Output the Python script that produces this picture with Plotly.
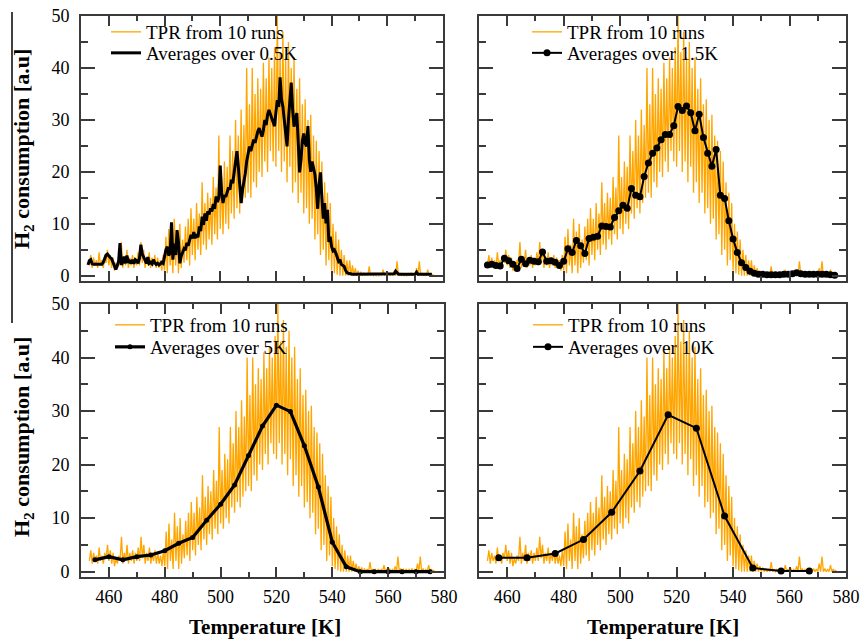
import numpy as np
import plotly.graph_objects as go

# ---------------- data ----------------
# raw TPR (10 runs): per-kelvin low / high envelope of the noisy trace
RAW_T0 = 453.0
raw_lo = [2.0, 1.5, 2.0, 1.5, 2.0, 1.5, 2.5, 2.0, 1.5, 1.0,
          1.5, 2.0, 1.5, 2.0, 1.5, 2.0, 1.5, 2.0, 2.0, 2.5,
          1.5, 2.0, 1.5, 2.0, 1.5, 1.5, 1.0, 1.0, 0.5, 2.0,
          0.5, 2.0, 0.5, 1.5, 2.5, 3.0, 2.0, 4.0, 3.0, 5.0,
          4.0, 6.0, 5.0, 7.0, 6.0, 8.0, 7.0, 9.0, 8.0, 10.0,
          9.0, 12.0, 11.0, 13.0, 12.0, 14.0, 15.0, 16.0, 15.0, 18.0,
          17.0, 20.0, 19.0, 22.0, 20.0, 24.0, 22.0, 21.0, 24.0, 20.0,
          22.0, 18.0, 21.0, 16.0, 18.0, 14.0, 16.0, 12.0, 13.0, 10.0,
          11.0, 7.0, 8.0, 4.0, 5.0, 2.0, 3.0, 1.0, 0.5, 0.2,
          0.0, 0.0, 0.0, 0.0, 0.0, 0.0, 0.0, 0.0, 0.0, 0.0,
          0.0, 0.0, 0.0, 0.0, 0.0, 0.0, 0.0, 0.0, 0.0, 0.0,
          0.0, 0.0, 0.0, 0.0, 0.0, 0.0, 0.0, 0.0, 0.0, 0.0,
          0.0, 0.0, 0.0, 0.0]
raw_hi = [4.0, 3.5, 3.0, 4.5, 3.0, 3.5, 5.0, 4.0, 3.5, 2.5,
          3.0, 6.5, 3.5, 5.0, 3.5, 4.0, 3.5, 4.5, 6.5, 5.0,
          3.5, 4.5, 3.5, 4.0, 3.5, 3.0, 4.0, 7.5, 9.0, 6.0,
          11.0, 8.5, 10.0, 7.0, 9.5, 11.0, 13.0, 11.0, 14.0, 12.0,
          18.0, 14.0, 16.0, 15.0, 19.0, 17.0, 27.0, 19.0, 22.0, 21.0,
          27.0, 24.0, 30.0, 27.0, 32.0, 29.0, 40.0, 33.0, 40.0, 35.0,
          38.0, 36.0, 41.0, 38.0, 42.0, 40.0, 44.0, 50.0, 43.0, 47.0,
          42.0, 45.0, 40.0, 42.0, 36.0, 38.0, 33.0, 34.0, 30.0, 31.0,
          27.0, 26.0, 24.0, 22.0, 18.0, 16.0, 14.0, 10.0, 8.5, 7.0,
          5.0, 4.0, 3.0, 3.0, 2.0, 1.5, 1.0, 0.8, 0.6, 0.5,
          1.8, 0.5, 0.4, 0.5, 0.4, 1.2, 0.5, 0.6, 0.4, 1.0,
          2.8, 0.6, 0.4, 0.5, 0.4, 0.6, 0.5, 1.5, 2.8, 0.6,
          0.4, 1.2, 0.5, 0.3]

# averages over 0.5 K (starting at 452.5 K)
AVG05_T0 = 452.5
avg_05 = [2.1, 2.9, 3.1, 2.3, 2.2, 2.2, 2.3, 2.2, 2.2, 2.3,
          2.2, 2.6, 3.4, 4.0, 4.2, 3.8, 3.5, 3.3, 2.5, 1.8,
          1.2, 1.9, 2.8, 6.3, 2.1, 2.6, 3.7, 2.4, 3.9, 2.5,
          2.8, 2.4, 3.1, 2.3, 3.1, 2.9, 2.4, 3.4, 6.0, 4.2,
          3.4, 3.0, 2.4, 3.6, 2.4, 2.6, 2.3, 3.1, 2.5, 2.2,
          2.4, 2.1, 2.3, 2.6, 2.4, 3.8, 5.0, 5.6, 3.9, 4.4,
          10.3, 3.1, 6.2, 4.0, 8.8, 6.5, 2.4, 3.8, 4.4, 5.2,
          4.9, 6.3, 5.8, 7.0, 7.9, 7.2, 8.4, 7.2, 8.0, 7.4,
          9.5, 8.6, 11.4, 9.8, 12.0, 10.6, 12.4, 11.8, 13.0, 12.4,
          13.8, 12.9, 15.3, 14.2, 15.0, 21.2, 16.0, 14.0, 15.5, 15.2,
          16.2, 17.0, 16.6, 18.5, 17.8, 20.0, 22.0, 24.0, 21.0, 18.2,
          14.0, 16.5, 18.0, 19.7, 22.0, 23.5, 24.9, 24.0, 25.5, 26.2,
          25.6, 27.0, 27.8, 28.4, 27.5, 26.8, 28.0, 30.0, 29.0, 31.0,
          31.9, 31.2, 30.6, 29.5, 28.8, 31.5, 33.8, 32.5, 38.2, 34.0,
          32.6, 30.0, 27.9, 24.9, 30.0, 33.0, 37.2, 32.0, 28.7, 30.2,
          31.3, 26.0, 19.9, 22.3, 26.0, 27.4, 25.5, 24.9, 28.8, 22.3,
          20.0, 22.0, 21.0, 19.5, 16.7, 12.9, 17.5, 19.9, 15.0, 11.0,
          14.0, 10.1, 12.7, 6.5, 7.5, 5.6, 4.8, 5.0, 4.4, 3.6,
          2.8, 3.1, 2.2, 2.0, 1.8, 1.1, 0.6, 0.5, 0.4, 0.4,
          0.3, 0.3, 0.3, 0.3, 0.3, 0.3, 0.3, 0.3, 0.3, 0.3,
          0.3, 0.3, 0.3, 0.3, 0.3, 0.3, 0.3, 0.3, 0.3, 0.3,
          0.3, 0.3, 0.3, 0.3, 0.3, 0.3, 0.3, 0.3, 0.3, 0.3,
          0.4, 0.9, 0.5, 0.3, 0.3, 0.3, 0.3, 0.3, 0.3, 0.3,
          0.3, 0.3, 0.3, 0.3, 0.3, 0.3, 0.7, 0.3, 0.3, 0.3,
          0.3, 0.3, 0.3, 0.3, 0.3, 0.3, 0.3, 0.3]

# averages over 1.5 K (starting at 453 K)
AVG15_T0 = 453.0
avg_15 = [2.1, 2.2, 2.0, 1.9, 3.4, 2.9, 2.2, 1.4, 3.2, 2.3,
          3.0, 2.8, 2.7, 4.6, 2.8, 2.9, 2.6, 2.0, 2.8, 5.2,
          4.5, 6.8, 5.8, 4.3, 7.2, 7.4, 7.6, 9.6, 9.5, 9.4,
          11.2, 12.5, 13.6, 13.0, 16.8, 15.5, 15.2, 19.1, 21.7, 23.6,
          24.6, 26.2, 27.2, 27.2, 28.9, 32.6, 31.8, 32.7, 31.4, 27.9,
          31.1, 26.6, 23.6, 21.1, 24.3, 15.5, 14.9, 10.6, 7.1, 4.5,
          2.5, 1.6, 0.9, 0.5, 0.3, 0.3, 0.2, 0.2, 0.2, 0.2,
          0.3, 0.3, 0.4, 0.6, 0.4, 0.3, 0.3, 0.3, 0.3, 0.3,
          0.3, 0.2, 0.1]

# averages over 5 K
T_5 = [455, 460, 465, 470, 475, 480, 485, 490, 495, 500, 505, 510, 515,
       520, 525, 530, 535, 540, 545, 550, 555, 560, 565, 570, 575]
avg_5 = [2.2, 2.8, 2.2, 2.8, 3.1, 3.9, 5.3, 6.4, 9.6, 12.6, 16.2, 21.7, 27.2,
         31.1, 29.9, 23.5, 15.8, 5.5, 0.9, 0.0, 0.0, 0.0, 0.0, 0.0, 0.0]

# averages over 10 K
T_10 = [457, 467, 477, 487, 497, 507, 517, 527, 537, 547, 557, 567]
avg_10 = [2.6, 2.6, 3.4, 6.0, 11.1, 18.8, 29.3, 26.8, 10.4, 0.7, 0.1, 0.1]

labels = ["Averages over 0.5K", "Averages over 1.5K",
          "Averages over 5K", "Averages over 10K"]
raw_label = "TPR from 10 runs"
x_ticks = [460, 480, 500, 520, 540, 560, 580]
y_ticks = [0, 10, 20, 30, 40, 50]

# ---------------- build ----------------
raw_x, raw_y = [], []
for i, (lo, hi) in enumerate(zip(raw_lo, raw_hi)):
    raw_x += [RAW_T0 + i, RAW_T0 + i + 0.5]
    raw_y += [lo, hi]

t05 = AVG05_T0 + 0.5 * np.arange(len(avg_05))
t15 = AVG15_T0 + 1.5 * np.arange(len(avg_15))

series = [(t05, avg_05), (t15, avg_15), (T_5, avg_5), (T_10, avg_10)]
line_w = [3.0, 2.0, 3.2, 2.0]
mk_size = [0, 7, 5, 7]

W, H = 862, 640
def px(x):
    return x / W
def py(y):
    return 1 - y / H

x_dom = [[px(81), px(443)], [px(479), px(846)], [px(81), px(444)], [px(479), px(846)]]
y_dom = [[py(281), py(16)], [py(281), py(16)], [py(577), py(304)], [py(577), py(304)]]

SERIF = "Liberation Serif, Times New Roman, serif"
ORANGE = "#FFA500"
FRAME = "#3a3a3a"
LEG_FS = 19

fig = go.Figure()
# (text start x, row-1 centre y, row-2 centre y) in page pixels
legend_pos = [(146, 32, 53), (567, 32, 53), (150, 325, 347), (568, 325, 347)]

def legend_box(x_text, y_centre):
    return dict(x=px(x_text - 40), y=py(y_centre - 19), xanchor="left", yanchor="top",
                bgcolor="rgba(0,0,0,0)", borderwidth=0,
                font=dict(family=SERIF, size=LEG_FS, color="black"),
                itemwidth=30, tracegroupgap=0)

for k in range(4):
    ax = "" if k == 0 else str(k + 1)
    leg_a = "legend" if k == 0 else f"legend{2 * k + 1}"
    leg_b = f"legend{2 * k + 2}"
    fig.add_trace(go.Scatter(
        x=raw_x, y=raw_y, mode="lines", name=raw_label,
        line=dict(color=ORANGE, width=1.3),
        xaxis="x" + ax, yaxis="y" + ax, legend=leg_a, hoverinfo="skip"))
    tx, ty = series[k]
    if mk_size[k] == 0:
        fig.add_trace(go.Scatter(
            x=tx, y=ty, mode="lines", name=labels[k],
            line=dict(color="black", width=line_w[k]),
            xaxis="x" + ax, yaxis="y" + ax, legend=leg_b))
    else:
        fig.add_trace(go.Scatter(
            x=tx, y=ty, mode="lines+markers", name=labels[k],
            line=dict(color="black", width=line_w[k]),
            marker=dict(color="black", size=mk_size[k], symbol="circle"),
            xaxis="x" + ax, yaxis="y" + ax, legend=leg_b))

    xa = dict(domain=x_dom[k], range=[450, 580], anchor="y" + ax,
              automargin=False, ticklabeloverflow="allow",
              tickvals=x_ticks, ticks="inside", ticklen=10, tickwidth=1.5,
              tickcolor=FRAME, showline=True, linecolor=FRAME, linewidth=2,
              mirror="allticks", showgrid=False, zeroline=False,
              minor=dict(dtick=10, tick0=450, ticks="inside", ticklen=5,
                         tickwidth=1.5, tickcolor=FRAME, showgrid=False),
              showticklabels=(k >= 2), ticklabelstandoff=2,
              tickfont=dict(family=SERIF, size=18, color="black"))
    ya = dict(domain=y_dom[k], range=[-1, 50], anchor="x" + ax,
              automargin=False, ticklabeloverflow="allow",
              tickvals=y_ticks, ticks="inside", ticklen=14,
              tickwidth=1.5, tickcolor=FRAME, showline=True, linecolor=FRAME,
              linewidth=2, mirror="allticks", showgrid=False, zeroline=False,
              minor=dict(dtick=5, tick0=0, ticks="inside", ticklen=7,
                         tickwidth=1.5, tickcolor=FRAME, showgrid=False),
              showticklabels=(k % 2 == 0), ticklabelstandoff=6,
              tickfont=dict(family=SERIF, size=18, color="black"))
    fig.layout["xaxis" + ax] = xa
    fig.layout["yaxis" + ax] = ya
    lx, ly1, ly2 = legend_pos[k]
    fig.layout[leg_a] = legend_box(lx, ly1)
    fig.layout[leg_b] = legend_box(lx, ly2)

ann = []
for yc in (149, 437):
    ann.append(dict(text="<b>H<sub>2</sub> consumption [a.u]</b>", x=px(23), y=py(yc),
                    xref="paper", yref="paper", showarrow=False, textangle=-90,
                    xanchor="center", yanchor="middle",
                    font=dict(family=SERIF, size=22, color="black")))
for xc in (265, 663):
    ann.append(dict(text="<b>Temperature [K]</b>", x=px(xc), y=py(627),
                    xref="paper", yref="paper", showarrow=False,
                    xanchor="center", yanchor="middle",
                    font=dict(family=SERIF, size=21, color="black")))

fig.update_layout(
    width=W, height=H, margin=dict(l=0, r=0, t=0, b=0, pad=0),
    paper_bgcolor="white", plot_bgcolor="white",
    font=dict(family=SERIF, size=17, color="black"),
    showlegend=True, annotations=ann,
    shapes=[dict(type="line", xref="paper", yref="paper",
                 x0=px(12), x1=px(12), y0=py(12), y1=py(323),
                 line=dict(color="black", width=1.5))])

# remove the browser's default page margin so the figure fills the window
fig.write_html("out.html",
               config={"displayModeBar": False},
               post_script="document.body.style.margin='0';"
                           "document.body.style.overflow='hidden';")
